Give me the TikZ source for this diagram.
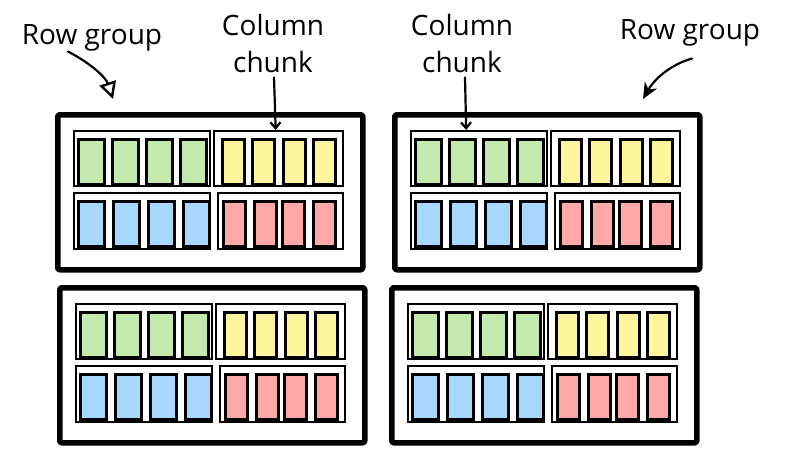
\documentclass[tikz,border=0pt]{standalone}
\usepackage{fontspec}
\setmainfont{Open Sans}
\usetikzlibrary{arrows.meta}
\definecolor{cgreen}{HTML}{C3E9AC}
\definecolor{cyellow}{HTML}{FFF59D}
\definecolor{cblue}{HTML}{A8D8FF}
\definecolor{cred}{HTML}{FFA9A9}
\tikzset{
  outerbox/.style={draw, line width=5.5pt, rounded corners=2pt, line join=round, inner sep=0pt, anchor=north west, minimum width=305pt, minimum height=155pt},
  groupbox/.style={draw, line width=2.4pt, inner sep=0pt, anchor=north west},
  cellbox/.style={draw, line width=2.6pt, inner sep=0pt, anchor=north west, minimum height=45pt},
  lbl/.style={font=\fontsize{28}{37}\selectfont, align=center, inner sep=0pt},
  arrowline/.style={line width=2.2pt, line cap=round}
}
\newcommand\rowgroupblock[3]{%
  \node[outerbox] (#1) at (#2,#3) {};
  \node[groupbox, minimum width=136pt, minimum height=55pt] (#1tl) at (#2+18,#3+18) {};
  \node[groupbox, minimum width=129pt, minimum height=55pt] (#1tr) at (#2+158,#3+18) {};
  \node[groupbox, minimum width=136pt, minimum height=56pt] (#1bl) at (#2+18,#3+80) {};
  \node[groupbox, minimum width=125pt, minimum height=56pt] (#1br) at (#2+162,#3+80) {};
  \foreach \i/\cx in {1/22,2/56,3/90,4/124}
    \node[cellbox, fill=cgreen, minimum width=26pt] (#1g\i) at (#2+\cx,#3+26) {};
  \foreach \i/\cx in {1/166,2/196,3/227,4/257}
    \node[cellbox, fill=cyellow, minimum width=22pt] (#1y\i) at (#2+\cx,#3+26) {};
  \foreach \i/\cx in {1/22,2/57,3/92,4/127}
    \node[cellbox, fill=cblue, minimum width=26pt] (#1b\i) at (#2+\cx,#3+88) {};
  \foreach \i/\cx in {1/167,2/198,3/226,4/257}
    \node[cellbox, fill=cred, minimum width=22pt] (#1r\i) at (#2+\cx,#3+88) {};
}
\begin{document}
\begin{tikzpicture}[x=1pt,y=-1pt]
  \useasboundingbox (0,0) rectangle (786,458);
  \rowgroupblock{A}{55}{112}
  \rowgroupblock{B}{392}{112}
  \rowgroupblock{C}{57}{285}
  \rowgroupblock{D}{389}{285}

  \node[lbl] (rg1) at (92,38) {Row group};
  \node[lbl] (cc1) at (273,43) {Column\\chunk};
  \node[lbl] (cc2) at (462,43) {Column\\chunk};
  \node[lbl] (rg2) at (690,33) {Row group};

  \coordinate (t1) at (113,99);
  \coordinate (t2) at (643,99);
  \draw[arrowline, -{Triangle[open,length=17pt,width=17pt,line width=2.4pt]}]
    ([shift={(-24,0)}]rg1.south) .. controls (92,64) and (106,78) .. (t1);
  \draw[arrowline, -{Straight Barb[length=6pt,width=10pt,line width=2.2pt]}]
    ([shift={(1,5)}]cc1.south) -- ([xshift=-3pt]Atr.north);
  \draw[arrowline, -{Straight Barb[length=6pt,width=10pt,line width=2.2pt]}]
    ([shift={(3,5)}]cc2.south) -- ([xshift=-13pt]Btl.north);
  \draw[arrowline, -{Stealth[length=16pt,width=14pt,inset=5pt]}]
    ([shift={(2,12)}]rg2.south) .. controls (672,64) and (655,78) .. (t2);
\end{tikzpicture}
\end{document}
